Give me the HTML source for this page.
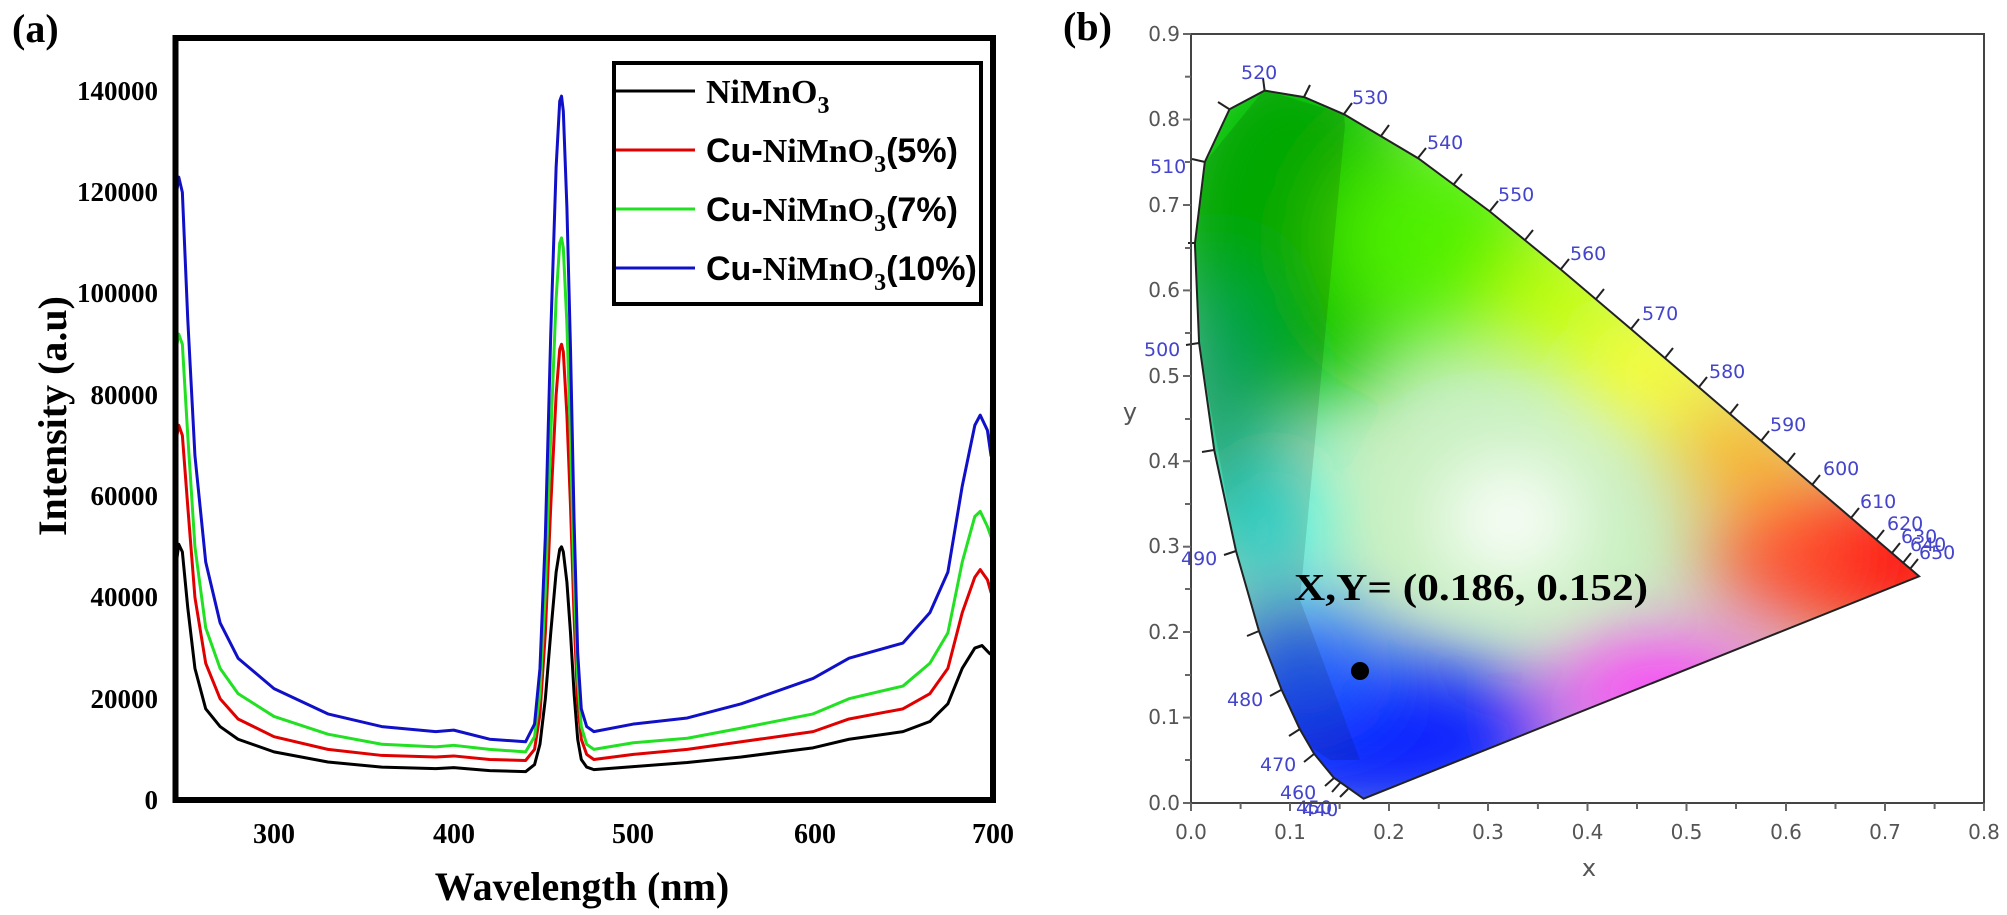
<!DOCTYPE html>
<html><head><meta charset="utf-8"><style>
html,body{margin:0;padding:0;background:#fff}
svg{display:block}
</style></head><body>
<svg width="2007" height="915" viewBox="0 0 2007 915" xmlns="http://www.w3.org/2000/svg">
<defs>
<clipPath id="pa"><rect x="178" y="41" width="812" height="756"/></clipPath>
<clipPath id="loc"><polygon points="1363.5,798.7 1333.7,777.6 1314,753.6 1299.6,728.8 1281.5,689.6 1259.1,631.5 1236,551 1214.3,450.4 1199.1,343 1194.9,243.5 1204.8,162 1229.5,109.2 1264.6,90.6 1304.2,97.1 1344.3,114.4 1418.5,158.5 1489.9,211.5 1560.7,269.4 1631.1,329.1 1698.9,387.2 1761,440.6 1812.4,484.7 1850.8,517.6 1876.3,539.6 1892.5,553.5 1903.5,563 1910.5,568.9 1919.1,576.3"/></clipPath>
<filter id="bl" x="-50%" y="-50%" width="200%" height="200%"><feGaussianBlur stdDeviation="40"/></filter>
</defs>

<!-- Panel (a) -->
<text x="12" y="42" font-family="Liberation Serif, serif" font-weight="bold" font-size="40">(a)</text>
<g clip-path="url(#pa)" fill="none" stroke-linejoin="round">
<g transform="translate(-265.1,800) scale(1.797,-0.005064)">
<polyline vector-effect="non-scaling-stroke" stroke="#000" stroke-width="3" points="245,45000 247,50500 249,49000 252,38000 256,26000 262,18000 270,14500 280,12000 300,9500 330,7500 360,6500 390,6200 400,6400 420,5800 440,5600 445,7000 448,11000 451,20000 454,33000 457,45000 459,49500 460,50000 461,49000 463,43000 465,33000 467,21000 469,12000 471,8000 474,6500 478,6000 500,6600 530,7400 560,8500 600,10300 620,12000 650,13500 665,15500 675,19000 683,26000 690,30000 694,30500 698,29000 700,28500"/>
<polyline vector-effect="non-scaling-stroke" stroke="#e00000" stroke-width="3" points="245,70000 247,74000 249,72000 252,58000 256,40000 262,27000 270,20000 280,16000 300,12500 330,10000 360,8800 390,8500 400,8700 420,8000 440,7800 445,10000 448,17000 451,33000 454,58000 457,80000 459,89000 460,90000 461,88500 463,76000 465,58000 467,36000 469,19000 471,12000 474,9000 478,8000 500,9000 530,10000 560,11500 600,13500 620,16000 650,18000 665,21000 675,26000 683,37000 690,44000 693,45500 697,43500 699,41000 700,50000"/>
<polyline vector-effect="non-scaling-stroke" stroke="#22e022" stroke-width="3" points="245,88000 247,92000 249,90000 252,72000 256,50000 262,34000 270,26000 280,21000 300,16500 330,13000 360,11000 390,10500 400,10800 420,10000 440,9500 445,12500 448,21000 451,41000 454,72000 457,99000 459,110000 460,111000 461,109000 463,94000 465,71000 467,44000 469,24000 471,14500 474,11000 478,10000 500,11300 530,12200 560,14200 600,17000 620,20000 650,22500 665,27000 675,33000 683,47000 690,56000 693,57000 697,54000 699,52000 700,68000"/>
<polyline vector-effect="non-scaling-stroke" stroke="#1010c8" stroke-width="3" points="245,118000 247,123000 249,120000 252,95000 256,68000 262,47000 270,35000 280,28000 300,22000 330,17000 360,14500 390,13500 400,13800 420,12000 440,11500 445,15000 448,26000 451,52000 454,92000 457,125000 459,138000 460,139000 461,136000 463,117000 465,89000 467,55000 469,29000 471,18000 474,14500 478,13500 500,15000 530,16200 560,19000 600,24000 620,28000 650,31000 665,37000 675,45000 683,62000 690,74000 693,76000 697,73000 699,68000 700,106000"/>
</g></g>
<rect x="175.5" y="38" width="817.5" height="762" fill="none" stroke="#000" stroke-width="6"/>
<g font-family="Liberation Serif, serif" font-weight="bold" font-size="27" text-anchor="end">
<text x="158" y="809">0</text><text x="158" y="708">20000</text><text x="158" y="606">40000</text><text x="158" y="505">60000</text><text x="158" y="404">80000</text><text x="158" y="302">100000</text><text x="158" y="201">120000</text><text x="158" y="100">140000</text>
</g>
<g font-family="Liberation Serif, serif" font-weight="bold" font-size="28" text-anchor="middle">
<text x="274" y="843">300</text><text x="454" y="843">400</text><text x="633" y="843">500</text><text x="815" y="843">600</text><text x="993" y="843">700</text>
</g>
<text x="582" y="900" font-family="Liberation Serif, serif" font-weight="bold" font-size="40" text-anchor="middle">Wavelength (nm)</text>
<text transform="translate(66,416) rotate(-90)" font-family="Liberation Serif, serif" font-weight="bold" font-size="40" text-anchor="middle">Intensity (a.u)</text>
<!-- legend -->
<rect x="614" y="63" width="367" height="241" fill="#fff" stroke="#000" stroke-width="4"/>
<line x1="616" y1="91" x2="695" y2="91" stroke="#000" stroke-width="3"/>
<line x1="616" y1="150" x2="695" y2="150" stroke="#e00000" stroke-width="3"/>
<line x1="616" y1="209" x2="695" y2="209" stroke="#22e022" stroke-width="3"/>
<line x1="616" y1="268" x2="695" y2="268" stroke="#1010c8" stroke-width="3"/>
<g font-weight="bold" font-size="34">
<text x="706" y="103"><tspan font-family="Liberation Serif, serif">NiMnO</tspan><tspan font-family="Liberation Serif, serif" font-size="24" dy="10">3</tspan></text>
<text x="706" y="162"><tspan font-family="Liberation Sans, sans-serif">Cu-</tspan><tspan font-family="Liberation Serif, serif">NiMnO</tspan><tspan font-family="Liberation Serif, serif" font-size="24" dy="10">3</tspan><tspan font-family="Liberation Sans, sans-serif" dy="-10">(5%)</tspan></text>
<text x="706" y="221"><tspan font-family="Liberation Sans, sans-serif">Cu-</tspan><tspan font-family="Liberation Serif, serif">NiMnO</tspan><tspan font-family="Liberation Serif, serif" font-size="24" dy="10">3</tspan><tspan font-family="Liberation Sans, sans-serif" dy="-10">(7%)</tspan></text>
<text x="706" y="280"><tspan font-family="Liberation Sans, sans-serif">Cu-</tspan><tspan font-family="Liberation Serif, serif">NiMnO</tspan><tspan font-family="Liberation Serif, serif" font-size="24" dy="10">3</tspan><tspan font-family="Liberation Sans, sans-serif" dy="-10">(10%)</tspan></text>
</g>

<!-- Panel (b) -->
<text x="1063" y="40" font-family="Liberation Serif, serif" font-weight="bold" font-size="40">(b)</text>
<g clip-path="url(#loc)">
<rect x="1180" y="80" width="760" height="730" fill="#c8f0c0"/>
<g filter="url(#bl)">
<ellipse cx="1290" cy="220" rx="140" ry="190" fill="#00c000"/>
<ellipse cx="1440" cy="240" rx="110" ry="100" fill="#50f000"/>
<ellipse cx="1560" cy="300" rx="70" ry="60" fill="#c0ff00"/>
<ellipse cx="1650" cy="370" rx="70" ry="50" fill="#ffff20"/>
<ellipse cx="1740" cy="450" rx="70" ry="50" fill="#ffb020"/>
<ellipse cx="1860" cy="560" rx="140" ry="80" fill="#ff1010"/>
<ellipse cx="1780" cy="560" rx="80" ry="50" fill="#ff5030"/>
<ellipse cx="1660" cy="690" rx="110" ry="50" fill="#ff30ff"/>
<ellipse cx="1380" cy="740" rx="180" ry="90" fill="#1020ff"/>
<ellipse cx="1300" cy="660" rx="80" ry="60" fill="#2060ff"/>
<ellipse cx="1260" cy="520" rx="60" ry="60" fill="#20f0f0"/>
<ellipse cx="1215" cy="400" rx="40" ry="120" fill="#00b070"/>
<ellipse cx="1510" cy="520" rx="70" ry="60" fill="#ffffff"/>
</g>
<polygon points="1344,114 1264,90 1205,162 1195,243 1199,343 1236,551 1259,631 1300,740 1330,760 1360,760 1300,600 1345,125" fill="#000" opacity="0.12"/>
</g>
<polygon fill="none" stroke="#222" stroke-width="2" points="1363.5,798.7 1333.7,777.6 1314,753.6 1299.6,728.8 1281.5,689.6 1259.1,631.5 1236,551 1214.3,450.4 1199.1,343 1194.9,243.5 1204.8,162 1229.5,109.2 1264.6,90.6 1304.2,97.1 1344.3,114.4 1418.5,158.5 1489.9,211.5 1560.7,269.4 1631.1,329.1 1698.9,387.2 1761,440.6 1812.4,484.7 1850.8,517.6 1876.3,539.6 1892.5,553.5 1903.5,563 1910.5,568.9 1919.1,576.3"/>
<g stroke="#222" stroke-width="2">
<line x1="1264.6" y1="90.6" x2="1263" y2="78"/><line x1="1304" y1="97" x2="1310" y2="85"/><line x1="1344" y1="114" x2="1352" y2="103"/>
<line x1="1381" y1="136" x2="1389" y2="125"/><line x1="1418" y1="158" x2="1426" y2="148"/><line x1="1454" y1="184" x2="1462" y2="174"/>
<line x1="1490" y1="211" x2="1498" y2="201"/><line x1="1525" y1="240" x2="1533" y2="230"/><line x1="1561" y1="269" x2="1569" y2="259"/>
<line x1="1596" y1="299" x2="1604" y2="289"/><line x1="1631" y1="329" x2="1639" y2="319"/><line x1="1665" y1="358" x2="1673" y2="348"/>
<line x1="1699" y1="387" x2="1707" y2="377"/><line x1="1730" y1="414" x2="1738" y2="404"/><line x1="1761" y1="441" x2="1769" y2="431"/>
<line x1="1787" y1="463" x2="1795" y2="453"/><line x1="1812" y1="485" x2="1820" y2="475"/><line x1="1851" y1="518" x2="1859" y2="508"/>
<line x1="1876" y1="540" x2="1884" y2="530"/><line x1="1892" y1="553" x2="1900" y2="543"/><line x1="1903" y1="563" x2="1911" y2="553"/><line x1="1910" y1="569" x2="1918" y2="559"/>
<line x1="1229" y1="109" x2="1218" y2="102"/><line x1="1205" y1="162" x2="1192" y2="159"/><line x1="1195" y1="243" x2="1188" y2="243"/>
<line x1="1199" y1="343" x2="1186" y2="345"/><line x1="1214" y1="450" x2="1202" y2="452"/><line x1="1236" y1="551" x2="1224" y2="555"/>
<line x1="1259" y1="631" x2="1247" y2="636"/><line x1="1281" y1="690" x2="1270" y2="696"/><line x1="1300" y1="729" x2="1289" y2="736"/>
<line x1="1314" y1="754" x2="1304" y2="762"/><line x1="1334" y1="778" x2="1325" y2="786"/><line x1="1340" y1="783" x2="1332" y2="792"/><line x1="1348" y1="789" x2="1340" y2="797"/>
</g>
<g font-family="DejaVu Sans, sans-serif" font-size="19" fill="#4444cc">
<text x="1241" y="79">520</text><text x="1352" y="104">530</text><text x="1427" y="149">540</text><text x="1498" y="201">550</text>
<text x="1570" y="260">560</text><text x="1642" y="320">570</text><text x="1709" y="378">580</text><text x="1770" y="431">590</text>
<text x="1823" y="475">600</text><text x="1860" y="508">610</text><text x="1887" y="530">620</text><text x="1901" y="543">630</text>
<text x="1910" y="551">640</text><text x="1919" y="559">650</text>
<text x="1150" y="173">510</text><text x="1144" y="356">500</text><text x="1181" y="565">490</text><text x="1227" y="706">480</text>
<text x="1260" y="771">470</text><text x="1280" y="799">460</text><text x="1296" y="814">450</text><text x="1302" y="816">440</text>
</g>
<rect x="1191" y="34" width="793" height="769" fill="none" stroke="#444" stroke-width="2"/>
<g stroke="#666" stroke-width="2">
<line x1="1183" y1="34" x2="1191" y2="34"/><line x1="1185" y1="76.7" x2="1191" y2="76.7"/><line x1="1183" y1="119.5" x2="1191" y2="119.5"/><line x1="1185" y1="162" x2="1191" y2="162"/><line x1="1183" y1="205" x2="1191" y2="205"/><line x1="1185" y1="248" x2="1191" y2="248"/><line x1="1183" y1="290.4" x2="1191" y2="290.4"/><line x1="1185" y1="333" x2="1191" y2="333"/><line x1="1183" y1="376" x2="1191" y2="376"/><line x1="1185" y1="419" x2="1191" y2="419"/><line x1="1183" y1="461.2" x2="1191" y2="461.2"/><line x1="1185" y1="504" x2="1191" y2="504"/><line x1="1183" y1="546.7" x2="1191" y2="546.7"/><line x1="1185" y1="589" x2="1191" y2="589"/><line x1="1183" y1="632" x2="1191" y2="632"/><line x1="1185" y1="675" x2="1191" y2="675"/><line x1="1183" y1="717.6" x2="1191" y2="717.6"/><line x1="1185" y1="760" x2="1191" y2="760"/><line x1="1183" y1="803" x2="1191" y2="803"/>
<line x1="1191" y1="803" x2="1191" y2="811"/><line x1="1240.6" y1="803" x2="1240.6" y2="809"/><line x1="1290" y1="803" x2="1290" y2="811"/><line x1="1339.6" y1="803" x2="1339.6" y2="809"/><line x1="1389" y1="803" x2="1389" y2="811"/><line x1="1438.8" y1="803" x2="1438.8" y2="809"/><line x1="1488" y1="803" x2="1488" y2="811"/><line x1="1537.9" y1="803" x2="1537.9" y2="809"/><line x1="1587.5" y1="803" x2="1587.5" y2="811"/><line x1="1637" y1="803" x2="1637" y2="809"/><line x1="1686.5" y1="803" x2="1686.5" y2="811"/><line x1="1736" y1="803" x2="1736" y2="809"/><line x1="1786" y1="803" x2="1786" y2="811"/><line x1="1835.5" y1="803" x2="1835.5" y2="809"/><line x1="1885" y1="803" x2="1885" y2="811"/><line x1="1934.6" y1="803" x2="1934.6" y2="809"/><line x1="1984" y1="803" x2="1984" y2="811"/>
</g>
<g font-family="DejaVu Sans, sans-serif" font-size="20" fill="#555" text-anchor="end">
<text x="1180" y="41">0.9</text><text x="1180" y="126">0.8</text><text x="1180" y="212">0.7</text><text x="1180" y="297">0.6</text><text x="1180" y="383">0.5</text><text x="1180" y="468">0.4</text><text x="1180" y="553">0.3</text><text x="1180" y="639">0.2</text><text x="1180" y="724">0.1</text><text x="1180" y="810">0.0</text>
</g>
<g font-family="DejaVu Sans, sans-serif" font-size="20" fill="#555" text-anchor="middle">
<text x="1191" y="839">0.0</text><text x="1290" y="839">0.1</text><text x="1389" y="839">0.2</text><text x="1488" y="839">0.3</text><text x="1587.5" y="839">0.4</text><text x="1686.5" y="839">0.5</text><text x="1786" y="839">0.6</text><text x="1885" y="839">0.7</text><text x="1984" y="839">0.8</text>
</g>
<text x="1589" y="876" font-family="DejaVu Sans, sans-serif" font-size="24" fill="#555" text-anchor="middle">x</text>
<text x="1130" y="420" font-family="DejaVu Sans, sans-serif" font-size="24" fill="#555" text-anchor="middle">y</text>
<circle cx="1360" cy="671" r="9" fill="#000"/>
<text x="1294" y="600" font-family="Liberation Serif, serif" font-weight="bold" font-size="38" textLength="354" lengthAdjust="spacingAndGlyphs">X,Y= (0.186, 0.152)</text>
</svg>
</body></html>
